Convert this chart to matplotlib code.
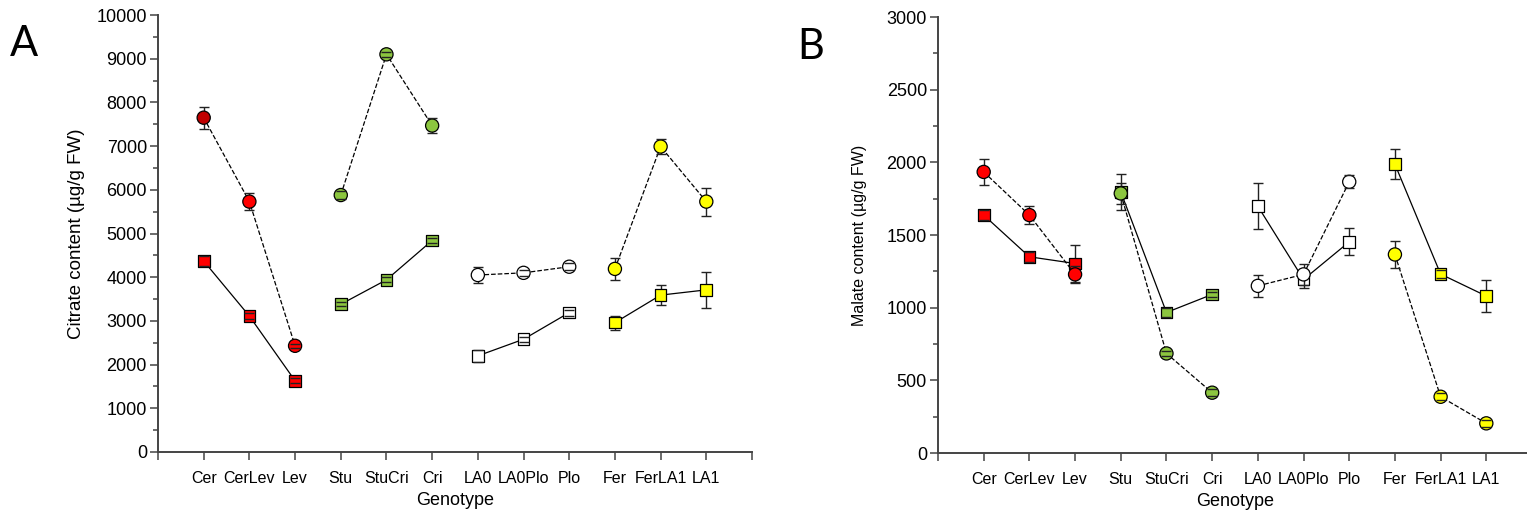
import matplotlib.pyplot as plt
from matplotlib.ticker import MultipleLocator

plt.rcParams['font.family'] = ['Liberation Sans', 'DejaVu Sans']

genotypes = ['Cer', 'CerLev', 'Lev', 'Stu', 'StuCri', 'Cri',
             'LA0', 'LA0Plo', 'Plo', 'Fer', 'FerLA1', 'LA1']
group_colors = ['#FF0000', '#8CC63F', '#FFFFFF', '#FFFF00']

# panel A - citrate (circles dashed, squares solid)
citrate_circle = [7650, 5730, 2430, 5880, 9100, 7470, 4050, 4100, 4240, 4190, 6990, 5730]
citrate_circle_err = [250, 195, 50, 100, 60, 170, 190, 70, 80, 245, 180, 320]
citrate_square = [4370, 3110, 1630, 3380, 3940, 4840, 2200, 2580, 3190, 2960, 3590, 3710]
citrate_square_err = [125, 60, 60, 50, 60, 50, 145, 60, 70, 160, 230, 420]

# panel B - malate
malate_circle = [1934, 1637, 1229, 1786, 685, 415, 1150, 1229, 1866, 1366, 387, 204]
malate_circle_err = [92, 62, 60, 70, 20, 25, 74, 70, 46, 90, 25, 25]
malate_square = [1637, 1350, 1304, 1797, 967, 1091, 1698, 1194, 1453, 1987, 1231, 1080]
malate_square_err = [37, 35, 126, 124, 30, 20, 157, 60, 94, 105, 25, 107]

axis_grey = '#444444'


def draw_panel(ax, circ, circ_err, sq, sq_err, circ_colors, sq_colors):
    for g in range(4):
        idx = [3 * g, 3 * g + 1, 3 * g + 2]
        x = [i + 1 for i in idx]
        # squares first so the circles sit on top where they overlap
        for k, (vals, errs, cols, ls, mk, s) in enumerate([
                (sq, sq_err, sq_colors, '-', 's', 70),
                (circ, circ_err, circ_colors, '--', 'o', 90)]):
            y = [vals[i] for i in idx]
            e = [errs[i] for i in idx]
            z = 2 + 3 * k
            ax.plot(x, y, ls=ls, color='black', lw=0.9, zorder=z)
            _, caps, bars = ax.errorbar(x, y, yerr=e, fmt='none', ecolor='#222222',
                                        elinewidth=1, capsize=3.4, capthick=1, zorder=z)
            for c in caps:
                c.set_zorder(z + 2)
            ax.scatter(x, y, s=s, marker=mk, c=[cols[i] for i in idx],
                       edgecolors='black', linewidths=0.9, zorder=z + 1)

    ax.set_xlim(0, 13)
    ax.set_xticks(range(14))
    ax.set_xticklabels([''] + genotypes + [''], fontsize=11.5)
    ax.spines['top'].set_visible(False)
    ax.spines['right'].set_visible(False)
    for sp in ['left', 'bottom']:
        ax.spines[sp].set_color(axis_grey)
        ax.spines[sp].set_linewidth(1.4)
    ax.tick_params(axis='both', which='major', length=6, width=1.1, color=axis_grey, pad=2)
    ax.tick_params(axis='y', which='minor', length=3.5, width=1.1, color=axis_grey)
    ax.tick_params(axis='y', labelsize=13)
    ax.tick_params(axis='x', pad=8)
    ax.set_xlabel('Genotype', fontsize=13, labelpad=4)


fig = plt.figure(figsize=(15.27, 5.18), dpi=100)

ax1 = fig.add_axes([158 / 1527, 66 / 518, 594 / 1527, 437 / 518])
cols_a_circ = [c for c in group_colors for _ in range(3)]
cols_a_circ[0] = '#C00000'
cols_sq = [c for c in group_colors for _ in range(3)]
draw_panel(ax1, citrate_circle, citrate_circle_err, citrate_square, citrate_square_err,
           cols_a_circ, cols_sq)
ax1.set_ylim(0, 10000)
ax1.yaxis.set_major_locator(MultipleLocator(1000))
ax1.yaxis.set_minor_locator(MultipleLocator(500))
ax1.set_ylabel('Citrate content (µg/g FW)', fontsize=13.5, labelpad=8)

ax2 = fig.add_axes([938 / 1527, 65 / 518, 594 / 1527, 436 / 518])
cols_b_circ = [c for c in group_colors for _ in range(3)]
draw_panel(ax2, malate_circle, malate_circle_err, malate_square, malate_square_err,
           cols_b_circ, cols_sq)
ax2.set_ylim(0, 3000)
ax2.yaxis.set_major_locator(MultipleLocator(500))
ax2.yaxis.set_minor_locator(MultipleLocator(250))
ax2.set_ylabel('Malate content (µg/g FW)', fontsize=11.5, labelpad=14)

fig.text(10 / 1527, 1 - 56 / 518, 'A', fontsize=30, family=['Lato', 'DejaVu Sans'])
fig.text(797 / 1527, 1 - 59 / 518, 'B', fontsize=30, family=['Lato', 'DejaVu Sans'])

fig.savefig('out.png', dpi=100)
